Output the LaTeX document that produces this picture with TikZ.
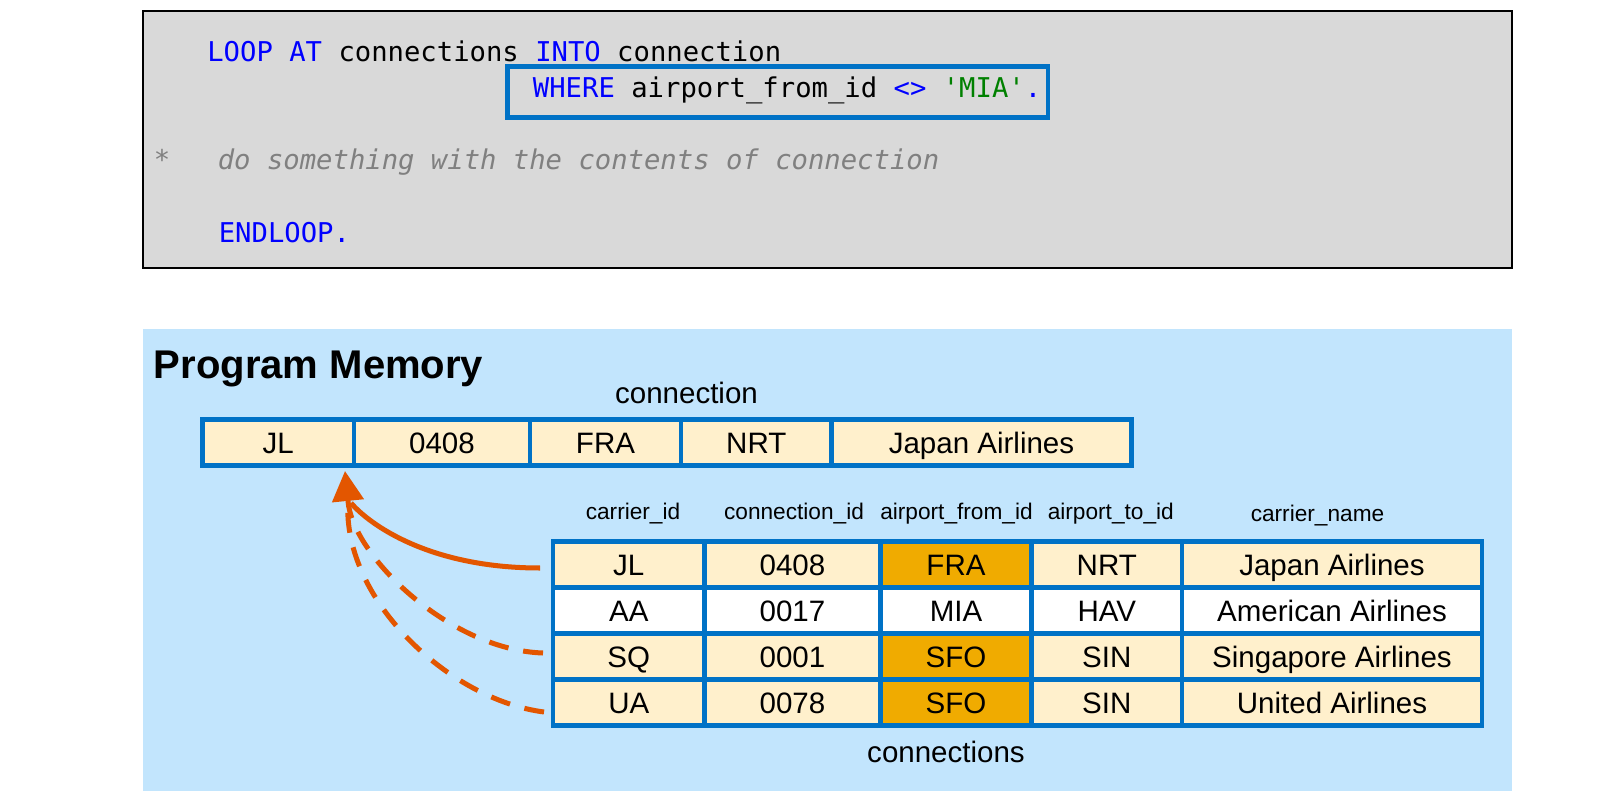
\documentclass[tikz,border=0pt]{standalone}
\usepackage{fontspec}
\setmainfont{Liberation Sans}
\setmonofont{DejaVu Sans Mono}
\usetikzlibrary{arrows.meta,calc}
\definecolor{codegray}{RGB}{217,217,217}
\definecolor{kwblue}{RGB}{0,0,255}
\definecolor{strgreen}{RGB}{0,128,0}
\definecolor{cmtgray}{RGB}{128,128,128}
\definecolor{memblue}{RGB}{0,114,198}
\definecolor{membg}{RGB}{194,229,253}
\definecolor{cream}{RGB}{255,240,204}
\definecolor{gold}{RGB}{240,171,0}
\definecolor{passorange}{RGB}{227,86,0}

\begin{document}
\begin{tikzpicture}[x=0.02cm, y=-0.02cm,
  codeline/.style={anchor=base west, inner sep=0pt, font=\ttfamily\fontsize{15.5}{18}\selectfont},
  cmtline/.style={codeline, text=cmtgray, font=\ttfamily\itshape\fontsize{15.5}{18}\selectfont},
  cell/.style={draw=memblue, line width=2.6pt, inner sep=0pt, outer sep=0pt, minimum height=0.92cm,
    text height=12pt, text depth=0pt, font=\fontsize{16.8}{20}\selectfont},
  cellplain/.style={cell, fill=cream},
  cellhit/.style={cell, fill=gold},
  cellskip/.style={cell, fill=white},
  colhead/.style={anchor=base, inner sep=0pt, font=\fontsize{12.9}{15}\selectfont},
  tablabel/.style={anchor=base, inner sep=0pt, font=\fontsize{16.8}{20}\selectfont},
  passed/.style={draw=passorange, line width=2.85pt},
  passhead/.style={passed, -{Triangle[length=0.6cm,width=0.62cm]}},
  skipped/.style={passed, dash pattern=on 0.4cm off 0.3cm}]
\useasboundingbox (0,0) rectangle (1600,801);
% Code box in gray with thin black frame
\draw[fill=codegray, line width=0.7pt] (143,11) rectangle (1512,268);
% Blue frame round the WHERE condition
\draw[memblue, line width=2.8pt] (507.7,66.7) rectangle (1048,117.2);
% The ABAP statement, line by line
\node[codeline] (loopline) at (207,61) {\textcolor{kwblue}{LOOP AT} connections \textcolor{kwblue}{INTO} connection};
\node[codeline] (whereline) at (532.6,97.5) {\textcolor{kwblue}{WHERE} airport\_from\_id \textcolor{kwblue}{<>} \textcolor{strgreen}{'MIA'}\textcolor{kwblue}{.}};
\node[cmtline] (star) at (153.5,169) {*};
\node[cmtline] (comment) at (217.5,169) {do something with the contents of connection};
\node[codeline, text=kwblue] (endloop) at (218.5,242) {ENDLOOP.};
% Program memory area in light blue
\fill[membg] (143,329) rectangle (1512,791);
\node[anchor=base west, inner sep=0pt, font=\bfseries\fontsize{22.8}{26}\selectfont] (memtitle) at (153.5,378.5) {Program Memory};
% Work area "connection"
\node[tablabel] (reclabel) at (686.5,403) {connection};
\node[cellplain, minimum width=3.03cm] (rec1) at (278.25,442.5) {JL};
\node[cellplain, minimum width=3.52cm] (rec2) at (442,442.5) {0408};
\node[cellplain, minimum width=3.02cm] (rec3) at (605.5,442.5) {FRA};
\node[cellplain, minimum width=3.01cm] (rec4) at (756.25,442.5) {NRT};
\node[cellplain, minimum width=6.00cm] (rec5) at (981.5,442.5) {Japan Airlines};
% Column names of the internal table
\node[colhead] (h1) at (633,519.3) {carrier\_id};
\node[colhead] (h2) at (794,519.3) {connection\_id};
\node[colhead] (h3) at (956.5,519.3) {airport\_from\_id};
\node[colhead] (h4) at (1110.8,519.3) {airport\_to\_id};
\node[colhead] (h5) at (1317.5,521.7) {carrier\_name};
% Row 1: JL
\node[cellplain, minimum width=3.03cm] (r1c1) at (628.75,564.5) {JL};
\node[cellplain, minimum width=3.52cm] (r1c2) at (792.5,564.5) {0408};
\node[cellhit, minimum width=3.02cm] (r1c3) at (956,564.5) {FRA};
\node[cellplain, minimum width=3.01cm] (r1c4) at (1106.75,564.5) {NRT};
\node[cellplain, minimum width=6.00cm] (r1c5) at (1332,564.5) {Japan Airlines};
% Row 2: AA (filtered out by WHERE)
\node[cellskip, minimum width=3.03cm] (r2c1) at (628.75,610.5) {AA};
\node[cellskip, minimum width=3.52cm] (r2c2) at (792.5,610.5) {0017};
\node[cellskip, minimum width=3.02cm] (r2c3) at (956,610.5) {MIA};
\node[cellskip, minimum width=3.01cm] (r2c4) at (1106.75,610.5) {HAV};
\node[cellskip, minimum width=6.00cm] (r2c5) at (1332,610.5) {American Airlines};
% Row 3: SQ
\node[cellplain, minimum width=3.03cm] (r3c1) at (628.75,656.5) {SQ};
\node[cellplain, minimum width=3.52cm] (r3c2) at (792.5,656.5) {0001};
\node[cellhit, minimum width=3.02cm] (r3c3) at (956,656.5) {SFO};
\node[cellplain, minimum width=3.01cm] (r3c4) at (1106.75,656.5) {SIN};
\node[cellplain, minimum width=6.00cm] (r3c5) at (1332,656.5) {Singapore Airlines};
% Row 4: UA
\node[cellplain, minimum width=3.03cm] (r4c1) at (628.75,702.5) {UA};
\node[cellplain, minimum width=3.52cm] (r4c2) at (792.5,702.5) {0078};
\node[cellhit, minimum width=3.02cm] (r4c3) at (956,702.5) {SFO};
\node[cellplain, minimum width=3.01cm] (r4c4) at (1106.75,702.5) {SIN};
\node[cellplain, minimum width=6.00cm] (r4c5) at (1332,702.5) {United Airlines};
\node[tablabel] (tablabel) at (946,762) {connections};
% Arrows from the table rows into the work area
\coordinate (tip) at ($(rec1.south east)+(-9,5.5)$);
\coordinate (headbase) at ($(tip)+(3,30)$);
\draw[skipped] ($(r3c1.west)+(-10,-3.5)$) .. controls +(-93,-3) and +(4.5,55) .. (headbase);
\draw[skipped] ($(r4c1.west)+(-9,9.5)$) .. controls +(-94,-12) and +(-6,99) .. (headbase);
\draw[passed] ($(r1c1.west)+(-13,3.5)$) .. controls +(-110,0) and +(19,22) .. ($(headbase)+(3,2)$);
\draw[passhead] (headbase) -- (tip);
\end{tikzpicture}
\end{document}
